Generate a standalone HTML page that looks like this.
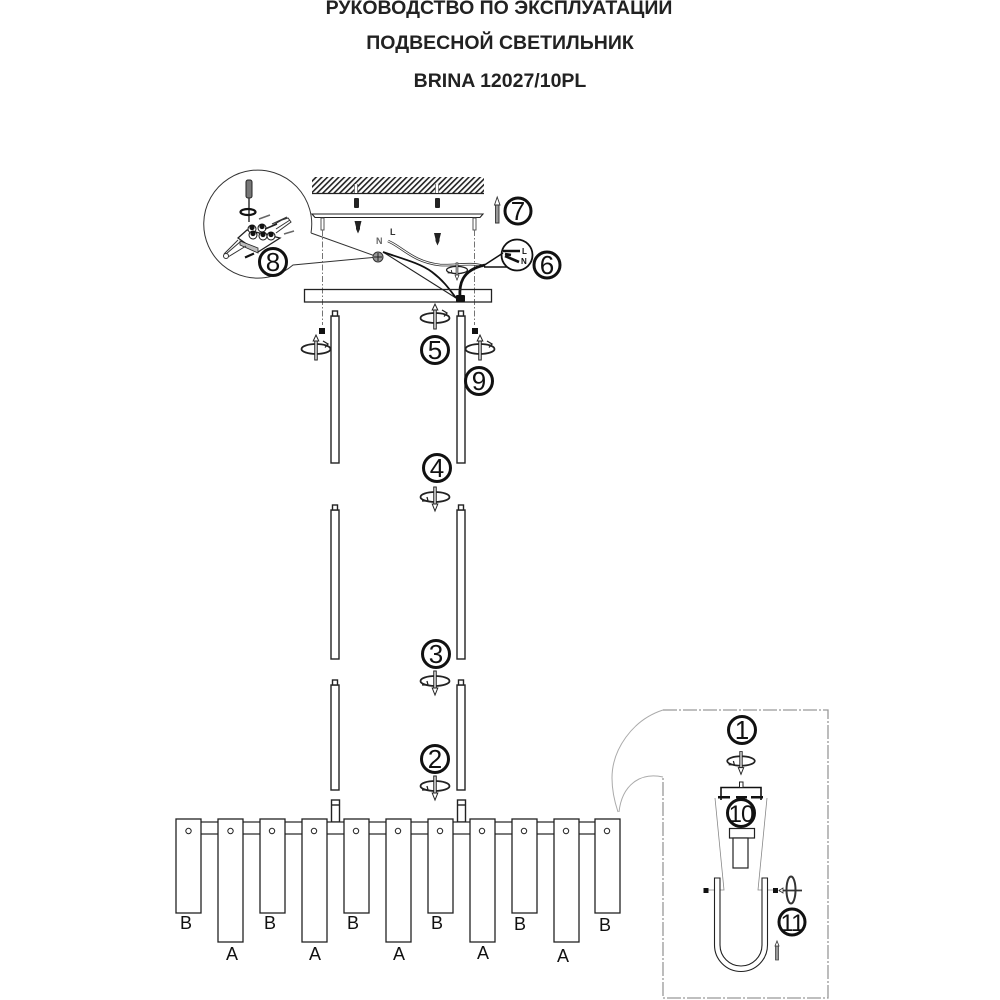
<!DOCTYPE html>
<html><head><meta charset="utf-8"><style>
html,body{margin:0;padding:0;background:#fff}
svg{display:block}
text{font-family:"Liberation Sans",sans-serif;fill:#111}
.t{font-weight:bold;font-size:19.500px;text-anchor:middle;fill:#222}
.n{font-size:26px;text-anchor:middle}
.m{font-size:24px;text-anchor:middle;letter-spacing:-1px}
.l{font-size:18px;text-anchor:middle}
</style></head><body>
<svg width="1000" height="1000" viewBox="0 0 1000 1000" xmlns="http://www.w3.org/2000/svg">
<defs>
<pattern id="h" width="4" height="4" patternUnits="userSpaceOnUse" patternTransform="rotate(45)">
<rect width="4" height="4" fill="#fff"/><rect width="1.600" height="4" fill="#222"/>
</pattern>
<g id="rotU" fill="none" stroke="#222">
<ellipse cx="0" cy="0" rx="14.500" ry="5" stroke-width="1.800"/>
<path d="M-1.300 -8H1.300V11H-1.300Z" fill="#ccc" stroke-width=".9"/>
<path d="M-2.800 -8L0 -14L2.800 -8Z" fill="#fff" stroke-width="1"/>
<path d="M7 -8L12 -5L9 -1.500" stroke-width="1.300"/>
</g>
<g id="rotD" fill="none" stroke="#222">
<ellipse cx="0" cy="0" rx="14.500" ry="5" stroke-width="1.800"/>
<path d="M-1.300 -10H1.300V7H-1.300Z" fill="#ccc" stroke-width=".9"/>
<path d="M-2.800 7L0 14L2.800 7Z" fill="#fff" stroke-width="1"/>
<path d="M-13 4L-7 4L-8 0" stroke-width="1.300"/>
</g>
</defs>

<text class="t" x="499" y="14">РУКОВОДСТВО ПО ЭКСПЛУАТАЦИИ</text>
<text class="t" x="500" y="49">ПОДВЕСНОЙ СВЕТИЛЬНИК</text>
<text class="t" x="500" y="87">BRINA 12027/10PL</text>

<!-- ceiling -->
<rect x="312" y="177" width="172" height="16" fill="url(#h)"/>
<path d="M312 193.500H484" stroke="#222" stroke-width="1.200"/>
<path d="M356 184V193M437 184V193" stroke="#fff" stroke-width="3"/>
<path d="M354.500 184V193M357.500 184V193M435.500 184V193M438.500 184V193" stroke="#555" stroke-width=".7"/>
<rect x="354" y="198" width="5" height="10" rx="1" fill="#222"/>
<rect x="435" y="198" width="5" height="10" rx="1" fill="#222"/>
<!-- plate -->
<path d="M312 214H483L480 217.500H315Z" fill="#fff" stroke="#222" stroke-width="1.100"/>
<rect x="321" y="218" width="3" height="12" fill="#fff" stroke="#444" stroke-width=".9"/>
<rect x="473" y="218" width="3" height="12" fill="#fff" stroke="#444" stroke-width=".9"/>
<path d="M322.500 230V325M474.500 230V325" stroke="#666" stroke-width=".9" stroke-dasharray="6 2 1.500 2" fill="none"/>
<!-- screws -->
<path d="M354.500 221h7l-1.500 6v2l-2 4.500-2-4.500v-2z" fill="#222"/>
<path d="M434 233h7l-1.500 6v2l-2 4.500-2-4.500v-2z" fill="#222"/>
<!-- arrow 7 -->
<path d="M495.500 205H499V223H495.500Z" fill="#999" stroke="#333" stroke-width=".9"/>
<path d="M494.500 205L497.200 197L500 205Z" fill="#fff" stroke="#333" stroke-width=".9"/>

<!-- detail 8 -->
<path d="M311 233A54 54 0 1 0 293 265L378 257M311 233L378 257" fill="none" stroke="#333" stroke-width="1"/>
<circle cx="378" cy="257" r="5" fill="#999" stroke="#333" stroke-width="1"/>
<path d="M374 257H382M378 253V261" stroke="#222" stroke-width="1"/>
<rect x="246" y="180" width="6" height="18" rx="2" fill="#777" stroke="#222"/>
<path d="M249 198V222" stroke="#333" stroke-width="1.500"/>
<ellipse cx="248" cy="212" rx="7.500" ry="3" fill="none" stroke="#111" stroke-width="2.200"/>
<path d="M238 238L247 230L280 238L258 252Z" fill="#fff" stroke="#222" stroke-width="1.300"/>
<path d="M240 241L258 248V253L240 245Z" fill="#bbb" stroke="#222" stroke-width=".8"/>
<g fill="#fff" stroke="#111" stroke-width="1">
<circle cx="252" cy="229" r="4"/><circle cx="262" cy="228" r="4"/><circle cx="253" cy="235" r="4"/><circle cx="263" cy="236" r="4"/><circle cx="271" cy="236" r="4"/>
</g>
<g fill="#111">
<circle cx="252" cy="227.500" r="2.600"/><circle cx="262" cy="226.500" r="2.600"/><circle cx="253" cy="233.500" r="2.600"/><circle cx="263" cy="234.500" r="2.600"/><circle cx="271" cy="234.500" r="2.600"/>
</g>
<path d="M268 228L282 220L288 218L291 222L276 233M272 224L287 217M276 229L290 220M240 242L226 254M246 246L228 257M238 240L224 254" fill="none" stroke="#333" stroke-width="1"/>
<circle cx="226" cy="256" r="2.500" fill="#fff" stroke="#333"/>
<path d="M245 257.500L254 253.500" stroke="#111" stroke-width="2.200"/>
<path d="M259 219L270 215M284 234L294 231" stroke="#666" stroke-width="1.500"/>
<path d="M265 229L277 224" stroke="#222" stroke-width="1.500"/>

<!-- wires -->
<text x="376" y="244" font-size="9" font-weight="bold" style="fill:#666">N</text>
<text x="390" y="235" font-size="9" font-weight="bold" style="fill:#333">L</text>
<path d="M388 241L392 243C405 250 415 262 440 265C455 266 470 262 483 266" fill="none" stroke="#333" stroke-width="2.600"/>
<path d="M388 241L392 243C405 250 415 262 440 265C455 266 470 262 483 266" fill="none" stroke="#fff" stroke-width="1"/>
<path d="M383 252L456 298" fill="none" stroke="#222" stroke-width="1.100"/>
<path d="M383 252C400 258 420 263 432 272C444 281 450 290 456 298" fill="none" stroke="#111" stroke-width="1.800"/>
<path d="M460 298C459 285 461 270 485 265" fill="none" stroke="#111" stroke-width="2.800"/>
<use href="#rotD" transform="translate(457 270) scale(.72)"/>
<!-- detail 6 -->
<circle cx="517" cy="255" r="15.500" fill="#fff" stroke="#111" stroke-width="1.800"/>
<path d="M483 266L503 253M484 267H507" stroke="#111" stroke-width="1.500"/>
<path d="M503 251H520M505 254L511 255M505 256L519 262" stroke="#111" stroke-width="2.600"/>
<text x="522" y="254" font-size="8" font-weight="bold">L</text>
<text x="521" y="264" font-size="8" font-weight="bold">N</text>

<!-- canopy -->
<rect x="304.500" y="289.500" width="187" height="12.500" fill="none" stroke="#222" stroke-width="1.300"/>
<rect x="456" y="295" width="9" height="7" rx="1" fill="#111"/>

<!-- rods -->
<g fill="#fff" stroke="#222" stroke-width="1.400">
<rect x="331" y="316" width="8" height="147"/><rect x="332.500" y="311" width="5" height="5"/>
<rect x="457" y="316" width="8" height="147"/><rect x="458.500" y="311" width="5" height="5"/>
<rect x="331" y="510" width="8" height="149"/><rect x="332.500" y="505" width="5" height="5"/>
<rect x="457" y="510" width="8" height="149"/><rect x="458.500" y="505" width="5" height="5"/>
<rect x="331" y="685" width="8" height="105"/><rect x="332.500" y="680" width="5" height="5"/>
<rect x="457" y="685" width="8" height="105"/><rect x="458.500" y="680" width="5" height="5"/>
<rect x="331.500" y="800" width="8" height="22"/><path d="M331.500 805H339.500"/>
<rect x="457.500" y="800" width="8" height="22"/><path d="M457.500 805H465.500"/>
</g>
<rect x="319" y="328" width="6" height="6" fill="#111"/>
<rect x="472" y="328" width="6" height="6" fill="#111"/>

<use href="#rotU" transform="translate(316 349)"/>
<use href="#rotU" transform="translate(435 318)"/>
<use href="#rotU" transform="translate(480 349)"/>
<use href="#rotD" transform="translate(435 497)"/>
<use href="#rotD" transform="translate(435 681)"/>
<use href="#rotD" transform="translate(435 786)"/>
<use href="#rotD" transform="translate(741 761) scale(.95)"/>

<!-- bar and shades -->
<rect x="188" y="822" width="420" height="12" fill="#fff" stroke="#222" stroke-width="1.200"/>
<g fill="#fff" stroke="#222" stroke-width="1.300">
<rect x="176" y="819" width="25" height="94"/>
<rect x="218" y="819" width="25" height="123"/>
<rect x="260" y="819" width="25" height="94"/>
<rect x="302" y="819" width="25" height="123"/>
<rect x="344" y="819" width="25" height="94"/>
<rect x="386" y="819" width="25" height="123"/>
<rect x="428" y="819" width="25" height="94"/>
<rect x="470" y="819" width="25" height="123"/>
<rect x="512" y="819" width="25" height="94"/>
<rect x="554" y="819" width="25" height="123"/>
<rect x="595" y="819" width="25" height="94"/>
</g>
<g fill="#fff" stroke="#222" stroke-width="1">
<circle cx="188.500" cy="831" r="2.700"/><circle cx="230.500" cy="831" r="2.700"/><circle cx="272" cy="831" r="2.700"/><circle cx="314" cy="831" r="2.700"/><circle cx="356" cy="831" r="2.700"/><circle cx="398" cy="831" r="2.700"/><circle cx="440" cy="831" r="2.700"/><circle cx="482" cy="831" r="2.700"/><circle cx="524" cy="831" r="2.700"/><circle cx="566" cy="831" r="2.700"/><circle cx="607" cy="831" r="2.700"/>
</g>
<text class="l" x="186" y="929">B</text><text class="l" x="270" y="929">B</text><text class="l" x="353" y="929">B</text><text class="l" x="437" y="929">B</text><text class="l" x="520" y="930">B</text><text class="l" x="605" y="931">B</text>
<text class="l" x="232" y="960">A</text><text class="l" x="315" y="960">A</text><text class="l" x="399" y="960">A</text><text class="l" x="483" y="959">A</text><text class="l" x="563" y="962">A</text>

<!-- detail callout -->
<path d="M663 710H828V998H663V777" fill="none" stroke="#999" stroke-width="1.300" stroke-dasharray="14 2 2 2"/>
<path d="M663 710C632 720 612 750 612 778C612 790 614 800 618 812M663 777C640 772 622 785 619 812" fill="none" stroke="#aaa" stroke-width="1"/>

<!-- detail part -->
<path d="M721 800V787.500H761V800" fill="none" stroke="#111" stroke-width="1.600"/>
<rect x="718" y="796" width="12" height="2.500" fill="#111"/><rect x="736" y="796" width="11" height="2.500" fill="#111"/><rect x="751" y="796" width="12" height="2.500" fill="#111"/>
<path d="M739.500 782h3.500v5.500h-3.500z" fill="#fff" stroke="#222"/>
<path d="M715 798L724 890H705M767 798L758 890H775" fill="none" stroke="#888" stroke-width=".8"/>
<rect x="729.500" y="828.500" width="25" height="9.500" fill="#fff" stroke="#222" stroke-width="1.200"/>
<rect x="733" y="838" width="15" height="30" fill="#fff" stroke="#222" stroke-width="1.200"/>
<path d="M714.500 878V945A26.500 26.500 0 0 0 767.500 945V878H762V945A21 21 0 0 1 720 945V878Z" fill="#fff" stroke="#222" stroke-width="1.100"/>
<rect x="703.500" y="888" width="5" height="5" fill="#111"/>
<rect x="773" y="888" width="5" height="5" fill="#111"/>
<path d="M779 890.500H802" stroke="#333" stroke-width="1.800"/>
<path d="M779 890.500L783 888V893Z" fill="#fff" stroke="#333" stroke-width=".8"/>
<ellipse cx="791" cy="890" rx="4.500" ry="13.500" fill="none" stroke="#333" stroke-width="2"/>
<path d="M775.500 946H778.500V960H775.500Z" fill="#999" stroke="#444" stroke-width=".8"/>
<path d="M775 946L777 941L779 946Z" fill="#fff" stroke="#333" stroke-width=".8"/>

<!-- number circles -->
<g fill="#fff" stroke="#111" stroke-width="3">
<circle cx="518" cy="211" r="13"/><circle cx="273" cy="262" r="13.500"/><circle cx="547" cy="265" r="13"/>
<circle cx="435" cy="350" r="13.500"/><circle cx="479" cy="381" r="13.500"/><circle cx="437" cy="468" r="13.500"/>
<circle cx="436" cy="654" r="13.500"/><circle cx="435" cy="759" r="13.500"/><circle cx="742" cy="730" r="13.500"/>
<circle cx="741" cy="813" r="13.500"/><circle cx="792" cy="922" r="13"/>
</g>
<text class="n" x="518" y="220">7</text><text class="n" x="273" y="271">8</text><text class="n" x="547" y="274">6</text>
<text class="n" x="435" y="359">5</text><text class="n" x="479" y="390">9</text><text class="n" x="437" y="477">4</text>
<text class="n" x="436" y="663">3</text><text class="n" x="435" y="768">2</text><text class="n" x="742" y="739">1</text>
<text class="m" x="741" y="822">10</text><text class="m" x="792" y="931">11</text>
</svg>
</body></html>
